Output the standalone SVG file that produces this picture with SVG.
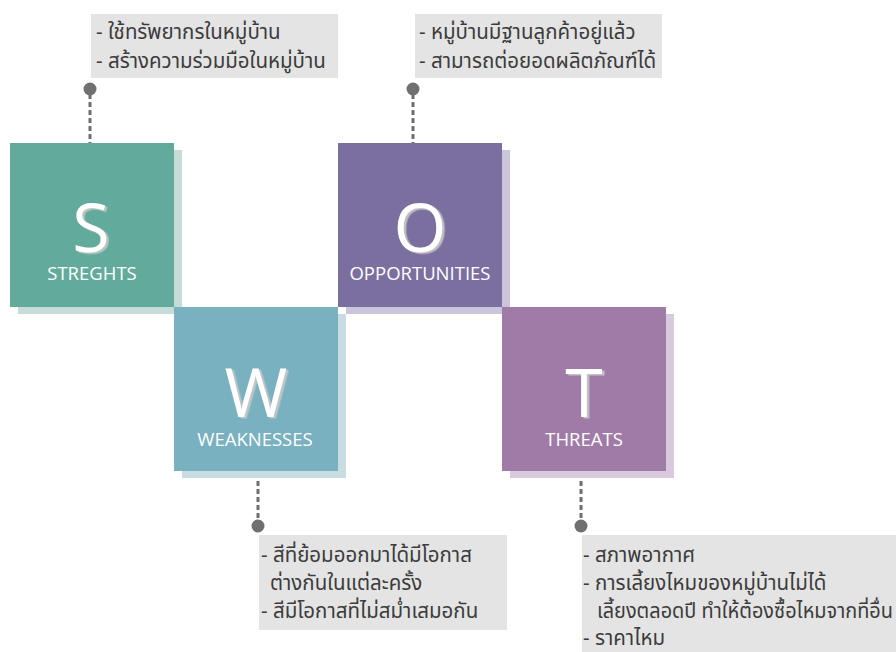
<svg xmlns="http://www.w3.org/2000/svg" width="896" height="652" viewBox="0 0 896 652">
<defs>
<filter id="lsh" x="-20%" y="-20%" width="140%" height="140%">
<feDropShadow dx="2.5" dy="1.5" stdDeviation="0.3" flood-color="#c8c8c8" flood-opacity="0.9"/>
</filter>
</defs>
<style>
.letter{font-family:"Open Sans","Noto Sans",sans-serif;font-size:68px;fill:#ffffff;text-anchor:middle;filter:url(#lsh)}
.label{font-family:"Open Sans","Noto Sans",sans-serif;font-size:18.5px;fill:#ffffff;text-anchor:middle}
.box{fill:#e4e4e4}
.th{font-family:"Noto Sans Thai","Leelawadee UI","Noto Sans","DejaVu Sans",sans-serif;font-size:20.5px;fill:#3c3c3c}
.dash{stroke:#6f6f6f;stroke-width:3;stroke-dasharray:5 3;fill:none}
.dot{fill:#707070}
</style>
<g id="connectors">
<line class="dash" x1="90" y1="94" x2="90" y2="143"/>
<circle class="dot" cx="90" cy="89" r="6.5"/>
<line class="dash" x1="413" y1="94" x2="413" y2="143"/>
<circle class="dot" cx="413" cy="89" r="6.5"/>
<line class="dash" x1="258" y1="473" x2="258" y2="521"/>
<circle class="dot" cx="258" cy="526" r="6.5"/>
<line class="dash" x1="581" y1="473" x2="581" y2="521"/>
<circle class="dot" cx="581" cy="526" r="6.5"/>
</g>
<g id="shadows">
<rect x="18" y="150" width="164" height="164" fill="#c6dcd8"/>
<rect x="182" y="314" width="164" height="164" fill="#c9dce2"/>
<rect x="346" y="150" width="164" height="164" fill="#cac5da"/>
<rect x="510" y="314" width="164" height="164" fill="#d9c9dd"/>
</g>
<g id="node-s">
<rect x="10" y="143" width="164" height="164" fill="#62ab9c"/>
<text class="letter" x="91" y="252">S</text>
<text class="label" x="92" y="280">STREGHTS</text>
</g>
<g id="node-w">
<rect x="174" y="307" width="164" height="164" fill="#79b1c0"/>
<text class="letter" x="256" y="417">W</text>
<text class="label" x="255" y="446">WEAKNESSES</text>
</g>
<g id="node-o">
<rect x="338" y="143" width="164" height="164" fill="#7b6fa0"/>
<text class="letter" x="420" y="252">O</text>
<text class="label" x="420" y="280">OPPORTUNITIES</text>
</g>
<g id="node-t">
<rect x="502" y="307" width="164" height="164" fill="#a17ba7"/>
<text class="letter" x="584" y="417">T</text>
<text class="label" x="584" y="446">THREATS</text>
</g>
<g id="note-s">
<rect class="box" x="91" y="14" width="247" height="64"/>
<text class="th" x="96" y="39">- ใช้ทรัพยากรในหมู่บ้าน</text>
<text class="th" x="96" y="68">- สร้างความร่วมมือในหมู่บ้าน</text>
</g>
<g id="note-o">
<rect class="box" x="415" y="14" width="247" height="64"/>
<text class="th" x="419" y="39">- หมู่บ้านมีฐานลูกค้าอยู่แล้ว</text>
<text class="th" x="419" y="68">- สามารถต่อยอดผลิตภัณฑ์ได้</text>
</g>
<g id="note-w">
<rect class="box" x="259" y="535" width="248" height="95"/>
<text class="th" x="261" y="562">- สีที่ย้อมออกมาได้มีโอกาส</text>
<text class="th" x="270" y="590">ต่างกันในแต่ละครั้ง</text>
<text class="th" x="261" y="618">- สีมีโอกาสที่ไม่สม่ำเสมอกัน</text>
</g>
<g id="note-t">
<rect class="box" x="582" y="535" width="320" height="120"/>
<text class="th" x="583" y="562">- สภาพอากาศ</text>
<text class="th" x="583" y="590">- การเลี้ยงไหมของหมู่บ้านไม่ได้</text>
<text class="th" x="597" y="618" textLength="296" lengthAdjust="spacingAndGlyphs">เลี้ยงตลอดปี ทำให้ต้องซื้อไหมจากที่อื่น</text>
<text class="th" x="583" y="645">- ราคาไหม</text>
</g>
</svg>
